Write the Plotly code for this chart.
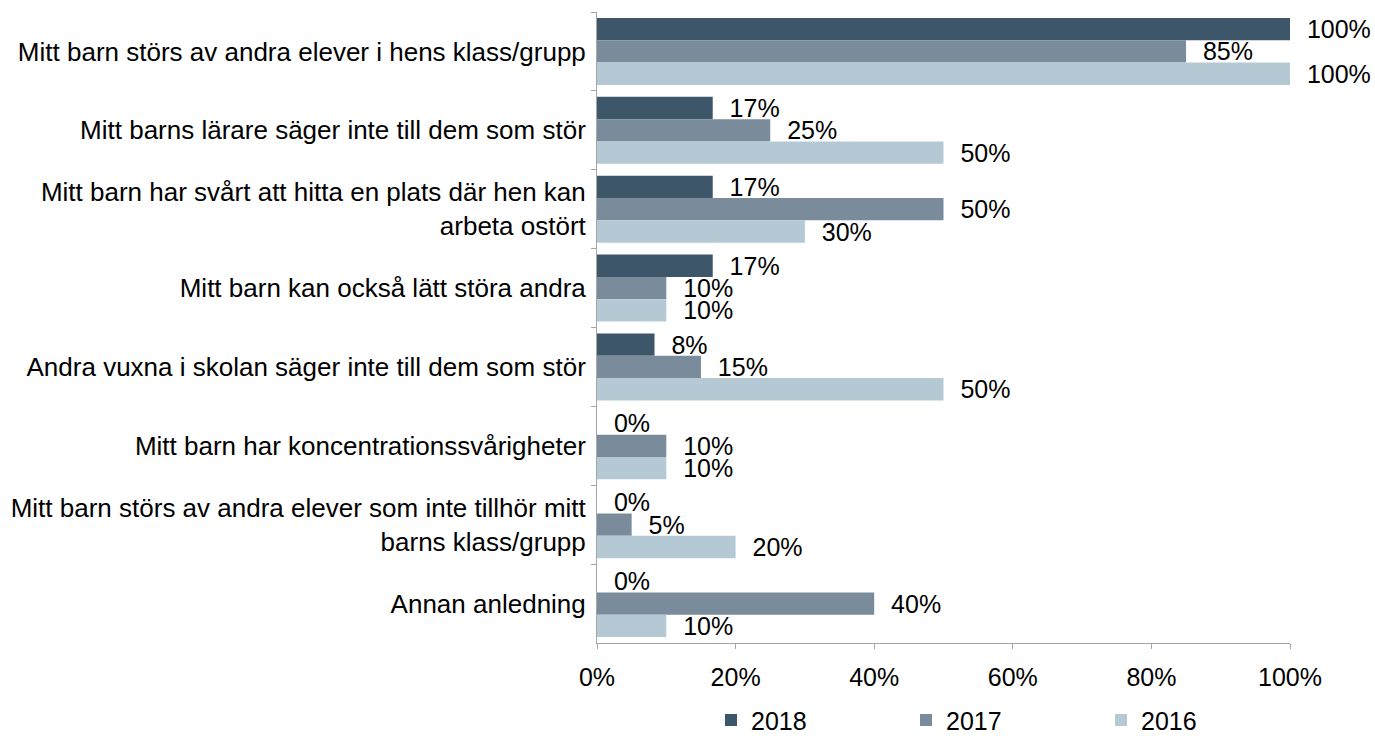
import plotly.graph_objects as go

categories = [
    "Mitt barn störs av andra elever i hens klass/grupp",
    "Mitt barns lärare säger inte till dem som stör",
    "Mitt barn har svårt att hitta en plats där hen kan<br>arbeta ostört",
    "Mitt barn kan också lätt störa andra",
    "Andra vuxna i skolan säger inte till dem som stör",
    "Mitt barn har koncentrationssvårigheter",
    "Mitt barn störs av andra elever som inte tillhör mitt<br>barns klass/grupp",
    "Annan anledning",
]
series_names = ["2018", "2017", "2016"]
values_2018 = [1.00, 0.167, 0.167, 0.167, 0.083, 0.00, 0.00, 0.00]
values_2017 = [0.85, 0.25, 0.50, 0.10, 0.15, 0.10, 0.05, 0.40]
values_2016 = [1.00, 0.50, 0.30, 0.10, 0.50, 0.10, 0.20, 0.10]
colors = ["#3d566a", "#7a8b9b", "#b5c9d5"]

FONT = "Liberation Sans, Arial, sans-serif"

fig = go.Figure()
for name, vals, col in zip(series_names, [values_2018, values_2017, values_2016], colors):
    fig.add_trace(go.Bar(
        y=categories, x=vals, name=name, orientation="h",
        marker=dict(color=col, line=dict(width=0)),
        texttemplate="\u00a0\u00a0%{x:.0%}", textposition="outside",
        textfont=dict(size=25, color="black", family=FONT),
        constraintext="none", cliponaxis=False,
    ))

fig.update_layout(
    width=1375, height=736,
    margin=dict(l=597, r=85, t=12, b=93, autoexpand=False),
    paper_bgcolor="white", plot_bgcolor="white",
    font=dict(family=FONT, size=25, color="black"),
    barmode="group", bargap=0.15, bargroupgap=0,
    showlegend=True,
    legend=dict(orientation="h", x=0.1645, xanchor="left", y=-0.086, yanchor="top",
                entrywidth=150, itemwidth=30, font=dict(size=25),
                traceorder="normal"),
    xaxis=dict(range=[0, 1], dtick=0.2, tickformat=".0%", showgrid=False,
               showline=True, linecolor="#a6a6a6", linewidth=1,
               ticks="outside", ticklen=5, tickcolor="#a6a6a6",
               ticklabelstandoff=7, automargin=False,
               zeroline=False, tickfont=dict(size=25)),
    yaxis=dict(autorange="reversed", showgrid=False, showline=True,
               linecolor="#a6a6a6", linewidth=1, ticks="outside",
               tickson="boundaries", ticklen=5, tickcolor="#a6a6a6",
               ticklabelstandoff=5, automargin=False,
               tickfont=dict(size=26)),
)

fig.write_html(
    "out.html",
    config={"displayModeBar": False},
    post_script="document.body.style.margin='0';document.body.style.overflow='hidden';",
)
